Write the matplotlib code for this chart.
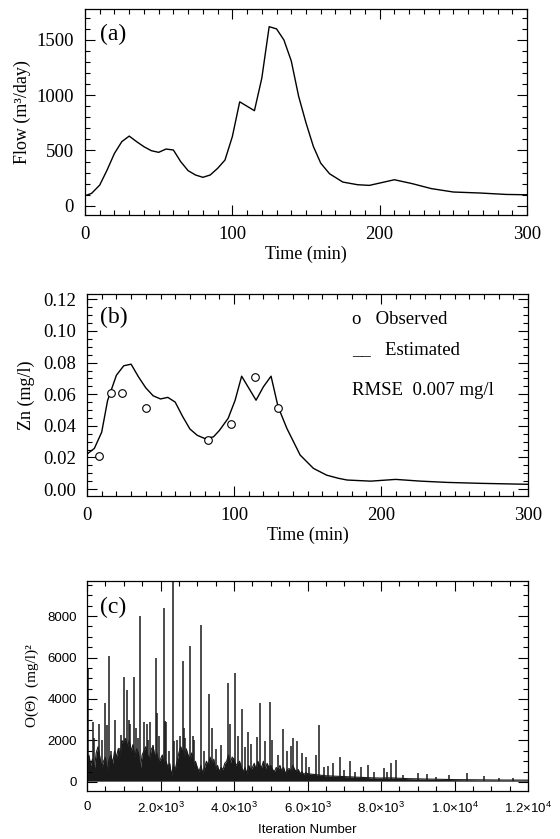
import numpy as np
import matplotlib
matplotlib.use("Agg")
import matplotlib.pyplot as plt
from matplotlib.ticker import MultipleLocator, FixedLocator, FixedFormatter

plt.rcParams['font.family'] = ['Liberation Serif', 'DejaVu Serif']
plt.rcParams['mathtext.fontset'] = 'custom'
plt.rcParams['mathtext.rm'] = 'Liberation Sans'
plt.rcParams['mathtext.it'] = 'Liberation Sans'

# ---------------- Panel (a): flow ----------------
flow_time = [0, 4.5, 10, 15, 20, 25, 30, 35, 40, 45, 50, 55, 60, 65, 70, 75, 80, 85, 90, 95,
             100, 105, 115, 120, 125, 130, 135, 140, 145, 150, 155, 160, 166, 175, 185, 193,
             200, 210, 222, 235, 250, 268, 286, 300]
flow_value = [90, 112, 187, 323, 474, 580, 630, 580, 534, 498, 483, 513, 504, 398, 317, 278, 257, 278, 338, 413,
              625, 940, 860, 1154, 1620, 1600, 1500, 1310, 990, 750, 536, 385, 289, 214, 190, 184,
              205, 235, 200, 155, 124, 115, 102, 99]

# ---------------- Panel (b): Zn ----------------
zn_obs_time = [8, 16, 24, 40, 82, 98, 114, 130]
zn_obs_value = [0.021, 0.061, 0.061, 0.051, 0.031, 0.041, 0.071, 0.051]
zn_est_time = [0, 5, 10, 14, 20, 25, 30, 35, 40, 45, 50, 55, 60, 65, 70, 75, 80, 86, 90, 96,
               100.7, 105.2, 115, 120, 125.2, 130, 136, 145, 154, 163, 171, 177, 193, 210, 227, 245, 268, 300]
zn_est_value = [0.0221, 0.0257, 0.036, 0.056, 0.072, 0.078, 0.079, 0.071, 0.064, 0.059, 0.057, 0.058, 0.055,
                0.046, 0.038, 0.034, 0.032, 0.033, 0.037, 0.0447, 0.056, 0.0714, 0.0562, 0.0647, 0.0714,
                0.052, 0.0383, 0.0215, 0.0131, 0.0088, 0.0068, 0.0057, 0.005, 0.0061, 0.005, 0.0042,
                0.0036, 0.003]

# ---------------- Panel (c): objective function ----------------
# dense lower band (read every 50 iterations up to 6000, then every 250)
band_iter = ([i * 50 for i in range(121)] +
             [6250, 6500, 6750, 7000, 7250, 7500, 7750, 8000, 8250, 8500, 8750, 9000,
              9250, 9500, 9750, 10000, 10250, 10500, 10750, 11000, 11250, 11500, 11750, 12000])
band_value = [900, 1300, 800, 1100, 600, 1400, 1700, 1200, 700, 1000,
              1200, 500, 1100, 1300, 900, 1500, 1200, 1600, 1300, 2000,
              1900, 2100, 1700, 2000, 1500, 1800, 1200, 1600, 1400, 600,
              1300, 1500, 1700, 1300, 1100, 1600, 1700, 1200, 1400, 1000,
              1100, 1300, 800, 1000, 700, 900, 300, 800, 600, 1000,
              1400, 1700, 1500, 1200, 1600, 1300, 1100, 1400, 800, 1000,
              700, 500, 800, 400, 700, 1000, 800, 1200, 900, 1100,
              600, 800, 500, 700, 600, 900, 1000, 1300, 900, 1200,
              1100, 800, 900, 1000, 700, 500, 700, 400, 800, 600,
              700, 900, 600, 1000, 800, 700, 1000, 600, 900, 700,
              800, 600, 500, 700, 600, 800, 500, 700, 400, 600,
              650, 500, 800, 600, 500, 600, 400, 500, 350, 450,
              400,
              350, 300, 280, 260, 240, 220, 200, 190, 200, 180, 160, 150,
              140, 130, 120, 115, 110, 105, 100, 100, 95, 95, 90, 90]

spike_iter = [36, 154, 200, 336, 400, 490, 535, 595, 653, 750, 860, 880, 925, 1000, 1090, 1152, 1180,
              1270, 1333, 1379, 1430, 1550, 1620, 1651, 1714, 1787, 1870, 1896, 1950, 2100, 2131,
              2150, 2222, 2330, 2376, 2450, 2540, 2600, 2649, 2680, 2800, 2875, 2900, 3090, 3180,
              3330, 3390, 3500, 3650, 3830, 3900, 4030, 4110, 4210, 4300, 4370, 4470, 4630, 4720,
              4830, 4970, 5040, 5200, 5340, 5450, 5560, 5600, 5710, 5850, 5950, 6050, 6230, 6300,
              6450, 6550, 6700, 6890, 7000, 7160, 7300, 7460, 7640, 7800, 8070, 8150, 8270, 8410,
              8600, 9000, 9240, 9500, 9840, 10330, 10800, 11200, 11600]
spike_value = [5450, 2900, 2120, 2800, 2000, 3800, 2770, 6050, 1480, 3000, 1400, 1640, 2280, 5080, 4420, 3000, 2800,
               5060, 2600, 2120, 7980, 2890, 2800, 2040, 2890, 1800, 5960, 3320, 2200, 8380, 2920,
               2900, 1480, 9700, 1960, 2000, 2200, 5810, 2600, 2100, 6550, 2200, 2000, 7590, 1500,
               4240, 2600, 1600, 1800, 4760, 2800, 5250, 2200, 3500, 1700, 2400, 1850, 2150, 3800,
               1960, 3840, 2020, 1300, 2550, 1500, 1740, 2100, 1960, 1400, 1220, 740, 1300, 2750,
               700, 750, 900, 1220, 600, 1010, 500, 700, 820, 500, 660, 500, 900, 1060,
               350, 420, 370, 250, 320, 420, 270, 200, 180]

W, H = 560, 839
fig = plt.figure(figsize=(W / 100, H / 100), dpi=100)

def fr(l, t, r, b):
    return [l / W, 1 - b / H, (r - l) / W, (b - t) / H]

def style_ticks(ax, labelsize, family):
    ax.tick_params(which='both', direction='in', top=True, right=True, width=0.8, color='black')
    ax.tick_params(which='major', length=7, labelsize=labelsize, pad=8)
    ax.tick_params(which='minor', length=3.5)
    for lab in ax.get_xticklabels() + ax.get_yticklabels():
        lab.set_family(family)
    for s in ax.spines.values():
        s.set_linewidth(0.9)

serif = ['Liberation Serif', 'DejaVu Serif']
sans = ['Liberation Sans', 'DejaVu Sans']

# (a)
ax1 = fig.add_axes(fr(85, 9, 527, 215))
ax1.plot(flow_time, flow_value, color='black', lw=1.0)
ax1.set_xlim(0, 300)
ax1.set_ylim(-84, 1780)
ax1.xaxis.set_major_locator(MultipleLocator(100))
ax1.xaxis.set_minor_locator(MultipleLocator(10))
ax1.yaxis.set_major_locator(MultipleLocator(500))
ax1.yaxis.set_minor_locator(MultipleLocator(100))
style_ticks(ax1, 13.5, serif)
ax1.set_xlabel('Time (min)', fontsize=13, family=serif, labelpad=2)
ax1.set_ylabel('Flow (m³/day)', fontsize=13, family=serif, labelpad=4)
ax1.text(0.035, 0.93, '(a)', transform=ax1.transAxes, fontsize=17, family=serif, va='top', ha='left')

# (b)
ax2 = fig.add_axes(fr(87, 294, 528, 496))
ax2.plot(zn_est_time, zn_est_value, color='black', lw=1.0)
ax2.plot(zn_obs_time, zn_obs_value, linestyle='none', marker='o', markersize=5.5,
         markerfacecolor='white', markeredgecolor='black', markeredgewidth=0.8)
ax2.set_xlim(0, 300)
ax2.set_ylim(-0.0044, 0.1234)
ax2.xaxis.set_major_locator(MultipleLocator(100))
ax2.xaxis.set_minor_locator(MultipleLocator(10))
ax2.yaxis.set_major_locator(MultipleLocator(0.02))
ax2.yaxis.set_minor_locator(MultipleLocator(0.005))
ax2.yaxis.set_major_formatter(matplotlib.ticker.FormatStrFormatter('%.2f'))
style_ticks(ax2, 13.5, serif)
ax2.set_xlabel('Time (min)', fontsize=13, family=serif, labelpad=2)
ax2.set_ylabel('Zn (mg/l)', fontsize=13, family=serif, labelpad=6)
ax2.text(0.03, 0.935, '(b)', transform=ax2.transAxes, fontsize=17, family=serif, va='top', ha='left')
ax2.text(0.602, 0.875, 'o   Observed', transform=ax2.transAxes, fontsize=13.5, family=serif, va='center')
ax2.text(0.602, 0.725, '__   Estimated', transform=ax2.transAxes, fontsize=13.5, family=serif, va='center')
ax2.text(0.602, 0.52, 'RMSE  0.007 mg/l', transform=ax2.transAxes, fontsize=13.5, family=serif, va='center')

# (c)
ax3 = fig.add_axes(fr(87, 581, 528, 791))
ax3.fill_between(band_iter, 40, band_value, color='#1a1a1a', lw=0)
ax3.plot(band_iter, band_value, color='#1a1a1a', lw=0.8)
ax3.vlines(spike_iter, 40, spike_value, color='#1a1a1a', lw=1.1)
ax3.set_xlim(0, 12000)
ax3.set_ylim(-434, 9687)
xt = [0, 2000, 4000, 6000, 8000, 10000, 12000]
xtl = ['0', '2.0×10$^{3}$', '4.0×10$^{3}$', '6.0×10$^{3}$', '8.0×10$^{3}$', '1.0×10$^{4}$', '1.2×10$^{4}$']
ax3.xaxis.set_major_locator(FixedLocator(xt))
ax3.xaxis.set_major_formatter(FixedFormatter(xtl))
ax3.xaxis.set_minor_locator(MultipleLocator(500))
ax3.yaxis.set_major_locator(MultipleLocator(2000))
ax3.yaxis.set_minor_locator(MultipleLocator(500))
style_ticks(ax3, 9.5, sans)
ax3.tick_params(which='major', pad=7)
ax3.set_xlabel('Iteration Number', fontsize=9.5, family=sans, labelpad=6)
ax3.set_ylabel('O(Θ)  (mg/l)²', fontsize=11, family=serif, labelpad=6)
ax3.text(0.03, 0.925, '(c)', transform=ax3.transAxes, fontsize=17, family=serif, va='top', ha='left')

fig.savefig('out.png', dpi=100)
